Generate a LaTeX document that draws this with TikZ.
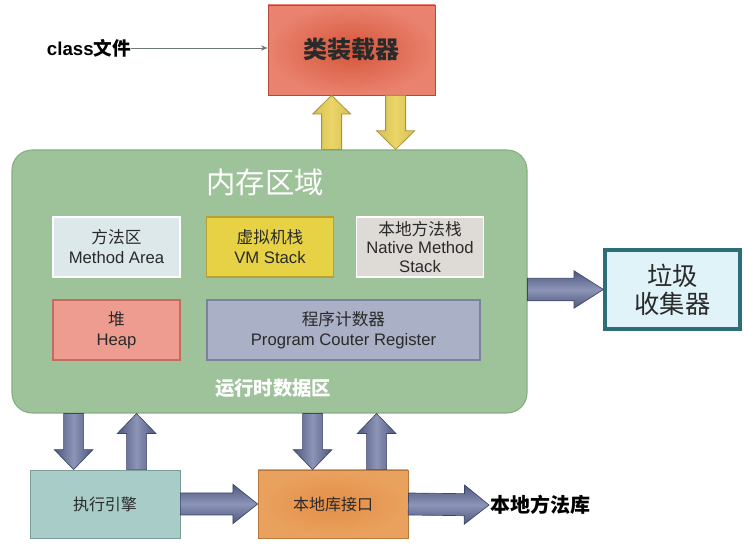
\documentclass[tikz,border=0pt]{standalone}
\usepackage{fontspec}
\setmainfont{Noto Sans CJK SC}
\newfontfamily\lat{Liberation Sans}
\usetikzlibrary{calc,arrows.meta}
\definecolor{memgreen}{HTML}{9EC29A}
\definecolor{memborder}{HTML}{86AE82}
\definecolor{redin}{HTML}{D6553A}
\definecolor{redout}{HTML}{E9826E}
\definecolor{redborder}{HTML}{B04A38}
\definecolor{yelfill}{HTML}{EAD568}
\definecolor{yeledge}{HTML}{D8C050}
\definecolor{yelborder}{HTML}{A8923A}
\definecolor{darkedge}{HTML}{4E5880}
\definecolor{darkmid}{HTML}{8C95B6}
\definecolor{darkborder}{HTML}{3E4668}
\definecolor{methfill}{HTML}{DDE8EB}
\definecolor{vmfill}{HTML}{E7D246}
\definecolor{vmborder}{HTML}{B6A232}
\definecolor{natfill}{HTML}{DEDAD6}
\definecolor{heapfill}{HTML}{EE9C90}
\definecolor{heapborder}{HTML}{C46C5E}
\definecolor{pcfill}{HTML}{AAB0C6}
\definecolor{pcborder}{HTML}{7C829E}
\definecolor{gcfill}{HTML}{DFF3F9}
\definecolor{gcborder}{HTML}{2E6E76}
\definecolor{execfill}{HTML}{A8CCC7}
\definecolor{execborder}{HTML}{7C9E99}
\definecolor{nlifill}{HTML}{E9A25E}
\definecolor{nliin}{HTML}{E48E48}
\definecolor{nliborder}{HTML}{B8783C}
\definecolor{txt}{HTML}{2A2A2A}
\definecolor{thinline}{HTML}{6E7878}
\tikzset{
  ashaft/.store in=\ashaft, ahead/.store in=\ahead, alen/.store in=\alen,
  ashaft=7.5pt, ahead=14.25pt, alen=15pt,
  blockarrow/.style={to path={
    ($(\tikztostart)!\ashaft!90:(\tikztotarget)$) --
    ($(\tikztotarget)!\alen!(\tikztostart)!\ashaft!-90:(\tikztostart)$) --
    ($(\tikztotarget)!\alen!(\tikztostart)!\ahead!-90:(\tikztostart)$) --
    (\tikztotarget) --
    ($(\tikztotarget)!\alen!(\tikztostart)!\ahead!90:(\tikztostart)$) --
    ($(\tikztotarget)!\alen!(\tikztostart)!\ashaft!90:(\tikztostart)$) --
    ($(\tikztostart)!\ashaft!-90:(\tikztotarget)$) -- cycle}},
  yarrow/.style={draw=yelborder, line width=0.6pt, left color=yeledge, right color=yeledge, middle color=yelfill, ashaft=7.5pt, ahead=14.25pt, alen=14pt},
  varrow/.style={draw=darkborder, line width=0.5pt, left color=darkedge, right color=darkedge, middle color=darkmid, ashaft=7.5pt, ahead=14.5pt, alen=15pt},
  harrow/.style={draw=darkborder, line width=0.5pt, top color=darkedge, bottom color=darkedge, middle color=darkmid, ashaft=8.25pt, ahead=14.75pt, alen=18.5pt},
  box/.style={inner sep=0pt, align=center, text=txt},
  innerbox/.style={box, minimum width=95.25pt, minimum height=45pt, line width=1.2pt, font=\fontsize{12.5}{15}\selectfont},
}
\begin{document}
\begin{tikzpicture}[x=0.75pt, y=-0.75pt]
\useasboundingbox (0,0) rectangle (744,548);
% class loader
\node[box, draw=redborder, line width=0.6pt, inner color=redin, outer color=redout, minimum width=125.25pt, minimum height=67.5pt, font=\fontsize{18}{20}\selectfont\bfseries] (loader) at (351.5,50) {类装载器};
\node[inner sep=0pt, text=black, font=\fontsize{14}{16}\selectfont\bfseries] (cls) at (89,48) {{\lat class}文件};
\draw[thinline, line width=0.6pt, -{Stealth[length=5pt,width=4pt]}] (cls.east) -- (cls.east -| loader.west);
% memory area
\node[box, fill=memgreen, draw=memborder, line width=0.8pt, rounded corners=15pt, minimum width=386.25pt, minimum height=197.25pt] (mem) at (269.5,281.5) {};
\node[inner sep=0pt, text=white, font=\fontsize{22}{24}\selectfont] (memtitle) at (265,182) {内存区域};
\node[innerbox, fill=methfill, draw=white] (method) at (116.5,247) {方法区\\{\lat Method Area}};
\node[innerbox, fill=vmfill, draw=vmborder] (vm) at (270,247) {虚拟机栈\\{\lat VM Stack}};
\node[innerbox, fill=natfill, draw=white, font=\fontsize{12.5}{14}\selectfont] (native) at (420,247) {本地方法栈\\{\lat Native Method}\\{\lat Stack}};
\node[innerbox, fill=heapfill, draw=heapborder] (heap) at (116.5,330) {堆\\{\lat Heap}};
\node[innerbox, fill=pcfill, draw=pcborder, minimum width=204.75pt] (pc) at (343.5,330) {程序计数器\\{\lat Program Couter Register}};
\node[inner sep=0pt, text=white, font=\fontsize{14.5}{16}\selectfont\bfseries] (runtime) at (273,388) {运行时数据区};
% garbage collector
\node[box, fill=gcfill, draw=gcborder, line width=2.4pt, minimum width=101.25pt, minimum height=59.25pt, font=\fontsize{19}{21}\selectfont] (gc) at (672.5,289.5) {垃圾\\收集器};
% bottom boxes
\node[box, fill=execfill, draw=execborder, line width=0.6pt, minimum width=112.5pt, minimum height=51pt, font=\fontsize{12}{14}\selectfont] (exec) at (105,504) {执行引擎};
\node[box, draw=nliborder, line width=0.6pt, inner color=nliin, outer color=nlifill, minimum width=112.5pt, minimum height=51pt, font=\fontsize{12}{14}\selectfont] (nli) at (333,504) {本地库接口};
\node[inner sep=1pt, anchor=west, text=black, font=\fontsize{15}{17}\selectfont\bfseries] (nlib) at (489,505) {本地方法库};
% anchor points for vertical arrows
\coordinate (yu) at ([xshift=48pt]loader.south west);
\coordinate (yd) at ([xshift=96pt]loader.south west);
\coordinate (e1) at ([xshift=33pt]exec.north west);
\coordinate (e2) at ([xshift=80.25pt]exec.north west);
\coordinate (n1) at ([xshift=41.25pt]nli.north west);
\coordinate (n2) at ([xshift=89.25pt]nli.north west);
% yellow arrows
\path[yarrow] (yu |- mem.north) to[blockarrow] (yu);
\path[yarrow] (yd) to[blockarrow] (yd |- mem.north);
% dark vertical arrows
\path[varrow] (e1 |- mem.south) to[blockarrow] (e1);
\path[varrow] (e2) to[blockarrow] (e2 |- mem.south);
\path[varrow] (n1 |- mem.south) to[blockarrow] (n1);
\path[varrow] (n2) to[blockarrow] (n2 |- mem.south);
% horizontal arrows
\path[harrow, ashaft=8.5pt, ahead=14pt, alen=22pt] (mem.east |- gc.west) to[blockarrow] (gc.west);
\path[harrow] (exec.east) to[blockarrow] (nli.west);
\path[harrow] (nli.east) to[blockarrow] (nlib.west);
\end{tikzpicture}
\end{document}
